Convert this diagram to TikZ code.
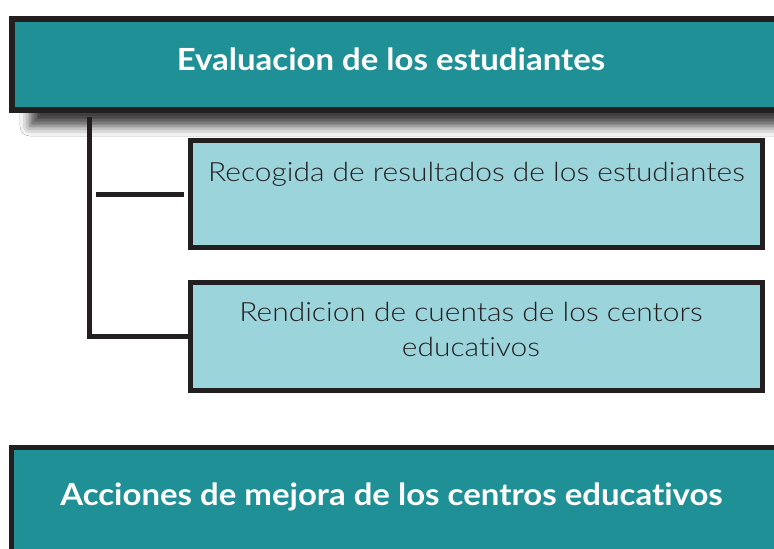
\documentclass[tikz,border=0pt]{standalone}
\usepackage{fontspec}
\setmainfont{Lato}[FakeStretch=1.08, Ligatures=NoCommon]
\newfontfamily\lightfont{Lato Light}[FakeStretch=1.13, Ligatures=NoCommon]
\usetikzlibrary{shadows.blur}
\definecolor{tealbox}{HTML}{1F9095}
\definecolor{lightbox}{HTML}{9BD4DB}
\definecolor{edgecol}{HTML}{231F20}
\tikzset{
  headbox/.style={draw=edgecol, fill=tealbox, rectangle, inner sep=0pt},
  subbox/.style={draw=edgecol, fill=lightbox, rectangle, line width=5pt, inner sep=0pt},
  headtxt/.style={text=white, font=\fontsize{30.5}{36}\selectfont\bfseries, inner sep=0pt, anchor=base},
  subtxt/.style={text=edgecol, font=\fontsize{26.5}{35}\selectfont\lightfont, inner sep=0pt, anchor=base, align=center},
  conn/.style={draw=edgecol, line width=5pt}
}
\begin{document}
\begin{tikzpicture}[x=1pt,y=-1pt]
\useasboundingbox (0,0) rectangle (774,549);
\clip (0,0) rectangle (774,549);
\fill[white] (0,0) rectangle (774,549);
% top header box
\node[headbox, line width=6pt, minimum width=768pt, minimum height=91pt,
  blur shadow={shadow xshift=18pt, shadow yshift=-16pt, shadow blur radius=10pt, shadow opacity=75}]
  (ev) at (396,64.5) {};
\node[headtxt] (evt) at (391,70) {Evaluacion de los estudiantes};
% sub boxes
\node[subbox, minimum width=572pt, minimum height=107pt] (b1) at (476.5,194) {};
\node[subtxt] (b1t) at (476.5,181) {Recogida de resultados de los estudiantes};
\node[subbox, minimum width=572pt, minimum height=108pt] (b2) at (476.5,336.5) {};
\node[subtxt] (b2t) at (471,321) {Rendicion de cuentas de los centors};
\node[subtxt] (b2u) at (471,356) {educativos};
% connectors
\coordinate (vtop) at ([shift={(80.5,4)}]ev.south west);
\draw[conn] (vtop) |- (b2.west);
\draw[conn] ([xshift=-4pt]b1.west) -- ([xshift=-92pt]b1.west);
% bottom header box
\node[headbox, line width=5pt, minimum width=768.5pt, minimum height=112.5pt] (ac) at (395.75,503.75) {};
\node[headtxt] (act) at (391.5,505) {Acciones de mejora de los centros educativos};
\end{tikzpicture}
\end{document}
